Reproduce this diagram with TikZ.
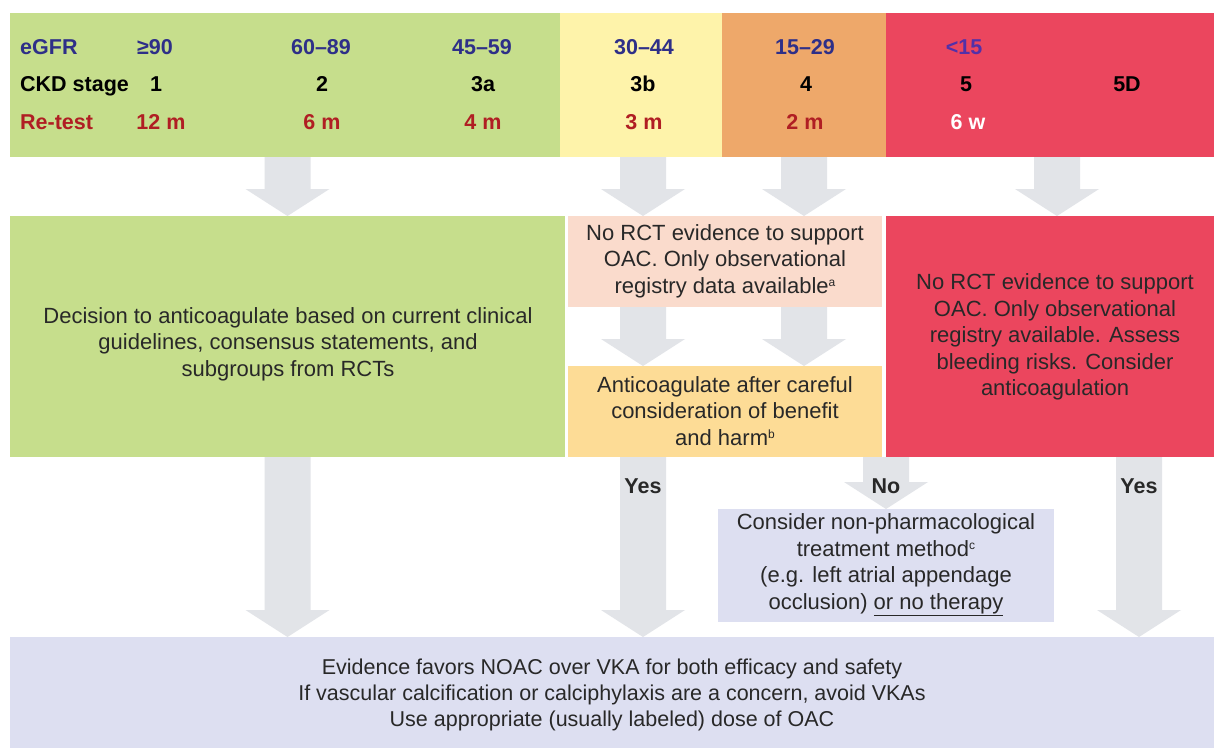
\documentclass[tikz,border=0pt]{standalone}
\usepackage{fontspec}
\setmainfont{Liberation Sans}
\usetikzlibrary{calc}
\definecolor{bandgreen}{RGB}{198,222,140}
\definecolor{bandyellow}{RGB}{254,243,170}
\definecolor{bandorange}{RGB}{238,168,106}
\definecolor{bandred}{RGB}{235,70,94}
\definecolor{pinkbox}{RGB}{250,219,204}
\definecolor{peachbox}{RGB}{253,220,150}
\definecolor{lavbox}{RGB}{221,223,241}
\definecolor{arrowgrey}{RGB}{226,228,232}
\definecolor{egfrblue}{RGB}{46,47,136}
\definecolor{lowpurple}{RGB}{83,48,168}
\definecolor{retestred}{RGB}{176,30,35}
\definecolor{bodytext}{RGB}{40,40,40}
\newcommand{\supnote}[1]{\raisebox{7pt}{\fontsize{12}{12}\selectfont #1}}
\begin{document}
\begin{tikzpicture}[x=1pt,y=-1pt,
  box/.style={draw=none, inner sep=0pt, outer sep=0pt, anchor=north west},
  hdr/.style={font=\fontsize{21.5}{26}\selectfont\bfseries, anchor=base, inner sep=0pt},
  hdrl/.style={hdr, anchor=base west},
  txt/.style={font=\fontsize{22}{26.5}\selectfont, align=center, text=bodytext, inner sep=0pt},
  txtb/.style={txt, font=\fontsize{21.5}{26}\selectfont},
  lbl/.style={font=\fontsize{21.5}{26}\selectfont\bfseries, text=bodytext, anchor=base, inner sep=0pt},
  blockarrow/.style={fill=arrowgrey, draw=none, to path={let \p1=(\tikztostart), \p2=(\tikztotarget) in
     (\x1-23pt,\y1) -- (\x1-23pt,\y2+27pt) -- (\x1-42pt,\y2+27pt) -- (\x1,\y2) -- (\x1+42pt,\y2+27pt) -- (\x1+23pt,\y2+27pt) -- (\x1+23pt,\y1) -- cycle}}
]
\useasboundingbox (0,0) rectangle (1214,748);
\fill[white] (0,0) rectangle (1214,748);

% top band
\node[box, fill=bandgreen, minimum width=550pt, minimum height=144pt] (bg) at (10,13) {};
\node[box, fill=bandyellow, minimum width=162pt, minimum height=144pt] (by) at (560,13) {};
\node[box, fill=bandorange, minimum width=164pt, minimum height=144pt] (bo) at (722,13) {};
\node[box, fill=bandred, minimum width=328pt, minimum height=144pt] (br) at (886,13) {};

% header rows
\node[hdrl, text=egfrblue] (hegfr) at (20,54) {eGFR};
\node[hdr, text=egfrblue] (e1) at (155,54) {≥90};
\node[hdr, text=egfrblue] (e2) at (321,54) {60–89};
\node[hdr, text=egfrblue] (e3) at (482,54) {45–59};
\node[hdr, text=egfrblue] (e4) at (644,54) {30–44};
\node[hdr, text=egfrblue] (e5) at (805,54) {15–29};
\node[hdr, text=lowpurple] (e6) at (964,54) {<15};

\node[hdrl, text=black] (hckd) at (20,91) {CKD stage};
\node[hdr, text=black] (s1) at (156,91) {1};
\node[hdr, text=black] (s2) at (322,91) {2};
\node[hdr, text=black] (s3) at (483,91) {3a};
\node[hdr, text=black] (s4) at (643,91) {3b};
\node[hdr, text=black] (s5) at (806,91) {4};
\node[hdr, text=black] (s6) at (966,91) {5};
\node[hdr, text=black] (s7) at (1127,91) {5D};

\node[hdrl, text=retestred] (hre) at (20,129) {Re-test};
\node[hdr, text=retestred] (r1) at (161,129) {12 m};
\node[hdr, text=retestred] (r2) at (322,129) {6 m};
\node[hdr, text=retestred] (r3) at (483,129) {4 m};
\node[hdr, text=retestred] (r4) at (644,129) {3 m};
\node[hdr, text=retestred] (r5) at (805,129) {2 m};
\node[hdr, text=white] (r6) at (968,129) {6 w};

% second row boxes
\node[box, fill=bandgreen, minimum width=555pt, minimum height=241pt] (gbox) at (10,216) {};
\node[box, fill=pinkbox, minimum width=314pt, minimum height=91pt] (pbox) at (568,216) {};
\node[box, fill=peachbox, minimum width=314pt, minimum height=91pt] (obox) at (568,366) {};
\node[box, fill=bandred, minimum width=328pt, minimum height=241pt] (rbox) at (886,216) {};
\node[box, fill=lavbox, minimum width=336pt, minimum height=113pt] (lbox) at (718,509) {};
\node[box, fill=lavbox, minimum width=1204pt, minimum height=111pt] (bbox) at (10,637) {};

% texts
\node[txt] (tg) at (288,344) {Decision to anticoagulate based on current clinical\\guidelines, consensus statements, and\\subgroups from RCTs};
\node[txt] (tp) at (725,261) {No RCT evidence to support\\OAC. Only observational\\registry data available\supnote{a}};
\node[txt] (to) at (725,411) {Anticoagulate after careful\\consideration of benefit\\and harm\supnote{b}};
\node[txt] (tr) at (1055,337) {No RCT evidence to support\\OAC. Only observational\\registry available. Assess\\bleeding risks. Consider\\anticoagulation};
\node[txt] (tl) at (886,565) {Consider non-pharmacological\\treatment method\supnote{c}\\(e.g. left atrial appendage\\occlusion) \underline{or no therapy}};
\node[txtb] (tb) at (612,695) {Evidence favors NOAC over VKA for both efficacy and safety\\If vascular calcification or calciphylaxis are a concern, avoid VKAs\\Use appropriate (usually labeled) dose of OAC};

% arrows band -> second row
\path[blockarrow] (gbox.north |- bg.south) to (gbox.north);
\path[blockarrow] ([xshift=2pt]by.south) to ([xshift=2pt]by.south |- pbox.north);
\path[blockarrow] (bo.south) to (bo.south |- pbox.north);
\path[blockarrow] ([xshift=7pt]br.south) to ([xshift=7pt]rbox.north);
% pink -> peach
\path[blockarrow] ([xshift=2pt]by.south |- pbox.south) to ([xshift=2pt]by.south |- obox.north);
\path[blockarrow] (bo.south |- pbox.south) to (bo.south |- obox.north);
% to bottom
\path[blockarrow] (gbox.south) to (gbox.south |- bbox.north);
\path[blockarrow] ([xshift=2pt]by.south |- obox.south) to ([xshift=2pt]by.south |- bbox.north);
\path[blockarrow] (lbox.north |- obox.south) to (lbox.north);
\path[blockarrow] ([xshift=89pt]rbox.south) to ([xshift=89pt]rbox.south |- bbox.north);

% labels
\node[lbl] (yes1) at (643,493) {Yes};
\node[lbl] (no1) at (886,493) {No};
\node[lbl] (yes2) at (1139,493) {Yes};
\end{tikzpicture}
\end{document}
